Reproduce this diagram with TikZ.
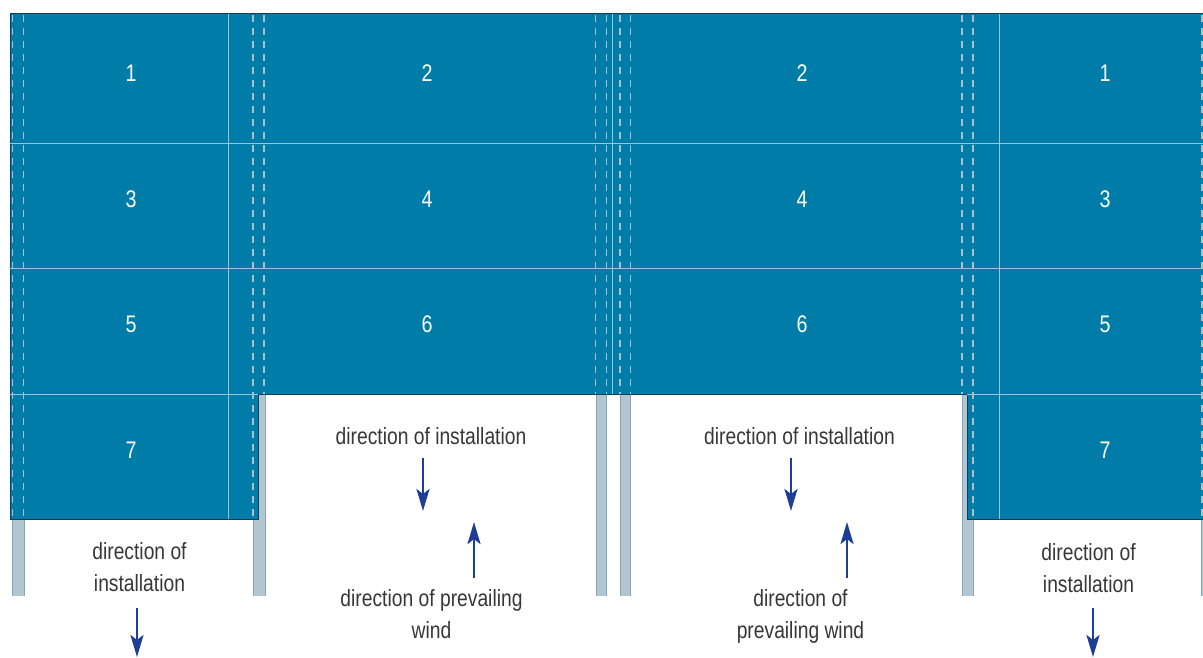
\documentclass[tikz,border=0pt]{standalone}
\usepackage{fontspec}
\setmainfont{Liberation Sans}[FakeStretch=0.82]
\usetikzlibrary{arrows.meta}
\definecolor{panel}{RGB}{0,124,168}
\definecolor{panelEdge}{RGB}{22,62,88}
\definecolor{seam}{RGB}{150,200,220}
\definecolor{dashcol}{RGB}{170,192,204}
\definecolor{postfill}{RGB}{178,198,210}
\definecolor{postedge}{RGB}{140,165,180}
\definecolor{txt}{RGB}{55,55,55}
\definecolor{arr}{RGB}{30,62,150}
\newcommand{\twoline}[2]{\begin{tabular}[t]{@{}c@{}}#1\\#2\end{tabular}}
\begin{document}
\begin{tikzpicture}[x=1pt,y=-1pt,
  postbar/.style={fill=postfill},
  postside/.style={draw=postedge,line width=0.9pt},
  seamline/.style={draw=seam,line width=1pt},
  dashline/.style={draw=dashcol,line width=1.1pt,dash pattern=on 7pt off 6pt},
  numlabel/.style={text=white,font=\fontsize{24}{28}\selectfont,anchor=base,inner sep=0pt},
  caption/.style={text=txt,font=\fontsize{23.5}{32.4}\selectfont,anchor=base,inner sep=0pt},
  dirarrow/.style={draw=arr,line width=2.6pt,-{Stealth[length=22pt,width=13pt,inset=5pt]}}
]
\useasboundingbox (0,0) rectangle (1203,657);
% posts (behind panels)
\foreach \a/\b/\t in {12/24/519, 253/265/394, 596/606/394, 620/630/394, 962/973/394, 1201/1203/519}{
  \fill[postbar] (\a,\t) rectangle (\b,596);
  \draw[postside] (\a,\t) -- (\a,596);
  \draw[postside] (\b,\t) -- (\b,596);
}
% panel surface
\fill[panel] (10,13) -- (1203,13) -- (1203,519) -- (967,519) -- (967,394)
  -- (258,394) -- (258,519) -- (10,519) -- cycle;
\draw[panelEdge,line width=1pt] (10,519) -- (10,13) -- (1203,13);
\draw[panelEdge,line width=1pt] (10,519) -- (258,519) -- (258,394) -- (967,394) -- (967,519) -- (1203,519);
% seams
\draw[seamline] (10,143) -- (1203,143);
\draw[seamline] (10,268) -- (1203,268);
\draw[seamline] (10,394) -- (258,394);
\draw[seamline] (967,394) -- (1203,394);
\draw[seamline] (228,14) -- (228,519);
\draw[seamline] (612.7,14) -- (612.7,394);
\draw[seamline] (999,14) -- (999,519);
% dashed overlap lines
\foreach \x/\e in {12.3/519, 23.7/519, 253/519, 264/394, 595.7/394, 606.3/394, 620/394, 630.3/394, 962/394, 973/519, 1202/519}{
  \draw[dashline] (\x,15) -- (\x,\e);
}
% numbers
\node[numlabel] (p1a) at (131,81) {1};
\node[numlabel] (p2a) at (427,81) {2};
\node[numlabel] (p2b) at (802,81) {2};
\node[numlabel] (p1b) at (1105,81) {1};
\node[numlabel] (p3a) at (131,207) {3};
\node[numlabel] (p4a) at (427,207) {4};
\node[numlabel] (p4b) at (802,207) {4};
\node[numlabel] (p3b) at (1105,207) {3};
\node[numlabel] (p5a) at (131,332) {5};
\node[numlabel] (p6a) at (427,332) {6};
\node[numlabel] (p6b) at (802,332) {6};
\node[numlabel] (p5b) at (1105,332) {5};
\node[numlabel] (p7a) at (131,458) {7};
\node[numlabel] (p7b) at (1105,458) {7};
% captions
\node[caption] (instA) at (431,444) {direction of installation};
\node[caption] (instB) at (799.5,444) {direction of installation};
\node[caption] (instL) at (139.5,559.5) {\twoline{direction of}{installation}};
\node[caption] (instR) at (1088.5,560.5) {\twoline{direction of}{installation}};
\node[caption] (windA) at (431.5,606) {\twoline{direction of prevailing}{wind}};
\node[caption] (windB) at (800.5,606) {\twoline{direction of}{prevailing wind}};
% arrows
\coordinate (iAs) at (423,458); \coordinate (iAe) at (423,511);
\coordinate (iBs) at (791,458); \coordinate (iBe) at (791,511);
\coordinate (iLs) at (137,608); \coordinate (iLe) at (137,657);
\coordinate (iRs) at (1093,608); \coordinate (iRe) at (1093,657);
\coordinate (wAs) at (474,578); \coordinate (wAe) at (474,522);
\coordinate (wBs) at (847,578); \coordinate (wBe) at (847,522);
\draw[dirarrow] (iAs) -- (iAe);
\draw[dirarrow] (iBs) -- (iBe);
\draw[dirarrow] (iLs) -- (iLe);
\draw[dirarrow] (iRs) -- (iRe);
\draw[dirarrow] (wAs) -- (wAe);
\draw[dirarrow] (wBs) -- (wBe);
\end{tikzpicture}
\end{document}
